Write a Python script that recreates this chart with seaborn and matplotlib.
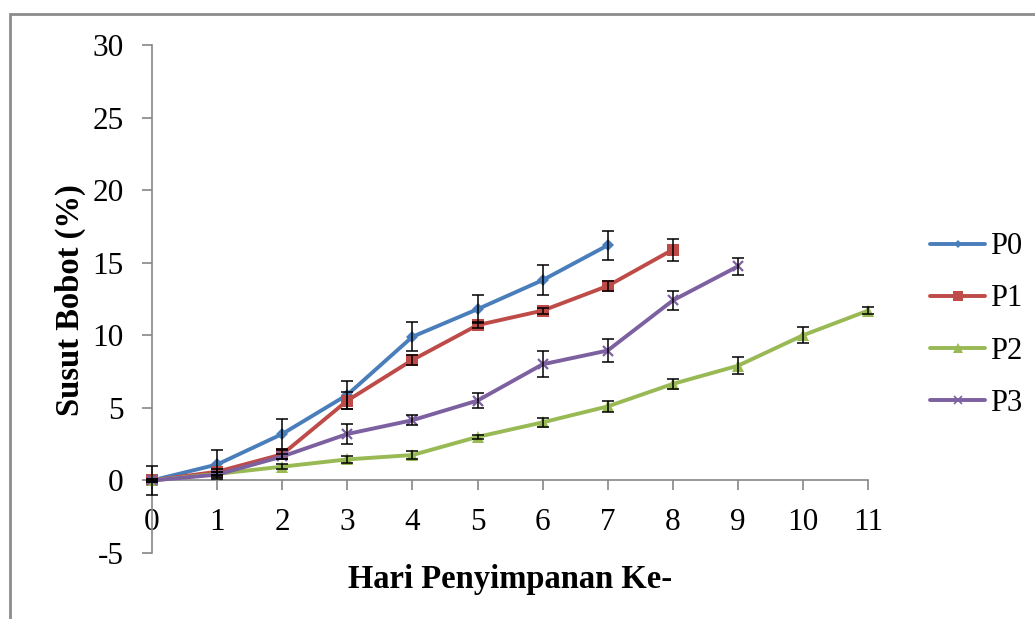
import numpy as np
import pandas as pd
import matplotlib
matplotlib.use("Agg")
import matplotlib.pyplot as plt
import seaborn as sns
from matplotlib.patches import Rectangle

# values
hari = list(range(12))
p0 = [0, 1.1, 3.2, 5.9, 9.9, 11.8, 13.8, 16.2]
p0_err = [1.0, 1.0, 1.0, 0.95, 1.0, 0.95, 1.05, 1.0]
p1 = [0, 0.6, 1.8, 5.5, 8.3, 10.7, 11.7, 13.4, 15.9]
p1_err = [0.1, 0.2, 0.3, 0.6, 0.35, 0.2, 0.2, 0.35, 0.75]
p2 = [0, 0.45, 0.95, 1.45, 1.75, 3.0, 4.0, 5.1, 6.65, 7.9, 10.0, 11.7]
p2_err = [0.05, 0.1, 0.15, 0.25, 0.3, 0.15, 0.3, 0.4, 0.35, 0.6, 0.55, 0.25]
p3 = [0, 0.4, 1.65, 3.2, 4.15, 5.5, 8.0, 8.95, 12.4, 14.75]
p3_err = [0.1, 0.15, 0.2, 0.7, 0.35, 0.5, 0.9, 0.8, 0.65, 0.6]

labels = ["P0", "P1", "P2", "P3"]
series = [p0, p1, p2, p3]
errors = [p0_err, p1_err, p2_err, p3_err]
colors = ["#4A7EBB", "#BE4B48", "#98B954", "#7D60A0"]
markers = ["D", "s", "^", "x"]
msizes = [6, 8, 8.5, 7.5]

df = pd.concat(
    [
        pd.DataFrame({"Hari": hari[: len(v)], "Susut": v, "Perlakuan": lab})
        for lab, v in zip(labels, series)
    ],
    ignore_index=True,
)

sns.set_style("white")
plt.rcParams["font.family"] = ["Liberation Serif", "DejaVu Serif"]
plt.rcParams["axes.unicode_minus"] = False
plt.rcParams["text.color"] = "black"
plt.rcParams["axes.labelcolor"] = "black"

fig = plt.figure(figsize=(10.35, 6.19), dpi=100)
ax = fig.add_axes([0.1469, 0.1066, 0.6918, 0.8207])

for lab, c, m, ms in zip(labels, colors, markers, msizes):
    sns.lineplot(
        data=df.query("Perlakuan == @lab"),
        x="Hari",
        y="Susut",
        color=c,
        marker=m,
        markersize=ms,
        markeredgewidth=1.6 if m == "x" else 0,
        markeredgecolor=c,
        linewidth=2.8,
        ax=ax,
        clip_on=False,
        zorder=3,
        label=lab,
        legend=False,
    )

for lab, v, e in zip(labels, series, errors):
    ax.errorbar(
        hari[: len(v)], v, yerr=e, fmt="none", ecolor="black",
        elinewidth=1.1, capsize=4, capthick=1.1, clip_on=False, zorder=4,
    )

ax.set_xlim(0, 11)
ax.set_ylim(-5, 30)
ax.set_xticks(hari)
ax.set_yticks(range(-5, 31, 5))
for s in ["top", "right"]:
    ax.spines[s].set_visible(False)
ax.spines["bottom"].set_position(("data", 0))
for s in ["left", "bottom"]:
    ax.spines[s].set_color("#868686")
    ax.spines[s].set_linewidth(1.2)
ax.tick_params(axis="both", which="both", direction="out", length=7.5, width=1.2,
               color="#868686", labelsize=22.5, labelcolor="black")
ax.tick_params(axis="y", pad=13, left=True)
ax.tick_params(axis="x", pad=12, bottom=True)

ax.set_xlabel("Hari Penyimpanan Ke-", fontsize=23.5, fontweight="bold")
ax.set_ylabel("Susut Bobot (%)", fontsize=23.5, fontweight="bold")
ax.xaxis.set_label_coords(0.5, -0.022)
ax.yaxis.set_label_coords(-0.092, 0.498)

handles = [
    plt.Line2D([], [], color=c, marker=m, lw=2.8, markersize=ms if m != "x" else 6,
               markeredgewidth=0 if m != "x" else 1.2, markeredgecolor=c)
    for c, m, ms in zip(colors, markers, [4, 7, 7, 6])
]
fig.legend(handles, labels, loc="upper left", bbox_to_anchor=(0.887, 0.6446),
           frameon=False, fontsize=22, handlelength=1.8, handletextpad=0.16,
           labelspacing=0.76, borderaxespad=0)

fig.patches.append(Rectangle((10 / 1035, -0.1), 1.2, 1 - 14 / 619 + 0.1,
                             transform=fig.transFigure, fill=False,
                             edgecolor="#8c8c8c", linewidth=2))

fig.savefig("out.png", dpi=100)
